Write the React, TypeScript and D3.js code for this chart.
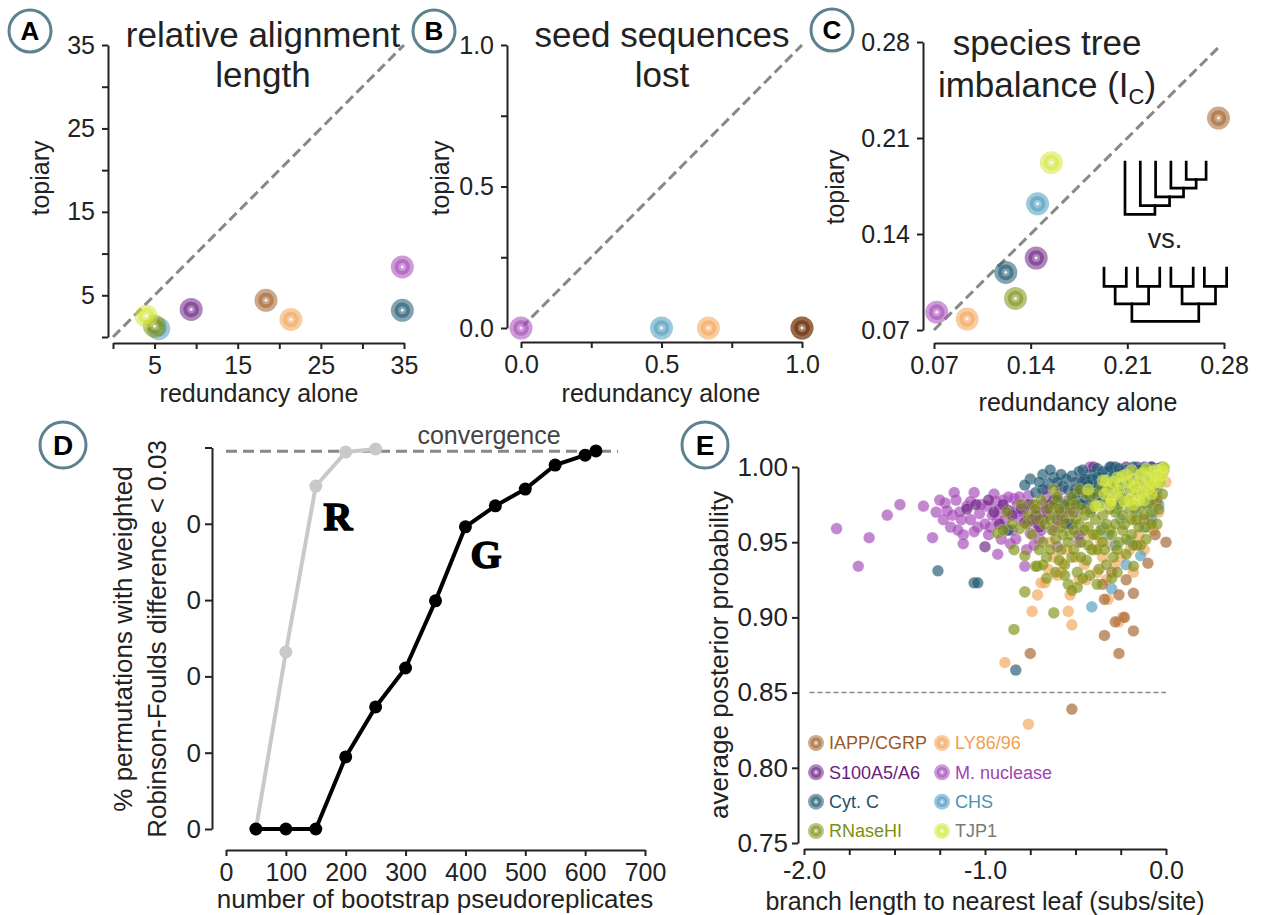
import React, { useEffect, useRef } from "react";
import * as d3 from "d3";

const FONT = "'Liberation Sans', Arial, Helvetica, sans-serif";
const AXIS = "#222";
const BADGE = "#5d8190";
const DASH = "#888";

// gene palette (shared by all panels)
const genes = ["IAPP/CGRP", "LY86/96", "S100A5/A6", "M. nuclease", "Cyt. C", "CHS", "RNaseHI", "TJP1"];
const geneFill = ["#a2622c", "#f3a456", "#6b2383", "#a449b8", "#1f5870", "#4f9bbd", "#7f9214", "#d5e63c"];
const geneText = ["#9a5a28", "#f0a050", "#6a2080", "#9d45b0", "#1f5068", "#4a92b4", "#7d8f10", "#7a7a7a"];

// A: relative alignment length
const alignTicks = [0, 5, 10, 15, 20, 25, 30, 35];
const alignTickLabels = ["", "5", "", "15", "", "25", "", "35"];
const alignGenes = ["CHS", "RNaseHI", "TJP1", "S100A5/A6", "IAPP/CGRP", "LY86/96", "Cyt. C", "M. nuclease"];
const alignRedundancy = [5.5, 5.0, 4.0, 9.4, 18.4, 21.4, 34.8, 34.8];
const alignTopiary = [1.0, 1.3, 2.5, 3.3, 4.4, 2.1, 3.2, 8.4];

// B: seed sequences lost
const seedTicks = [0, 0.25, 0.5, 0.75, 1];
const seedTickLabels = ["0.0", "", "0.5", "", "1.0"];
const seedGenes = ["M. nuclease", "CHS", "LY86/96", "IAPP/CGRP"];
const seedRedundancy = [0, 0.5, 0.667, 1.0];
const seedTopiary = [0, 0, 0, 0];

// C: species tree imbalance
const imbTicks = [0.07, 0.14, 0.21, 0.28];
const imbTickLabels = ["0.07", "0.14", "0.21", "0.28"];
const imbGenes = ["M. nuclease", "LY86/96", "RNaseHI", "Cyt. C", "S100A5/A6", "CHS", "TJP1", "IAPP/CGRP"];
const imbRedundancy = [0.072, 0.094, 0.129, 0.122, 0.144, 0.145, 0.155, 0.276];
const imbTopiary = [0.083, 0.078, 0.093, 0.112, 0.1225, 0.162, 0.192, 0.2245];
const caterpillarTree = ["a", ["b", ["c", ["d", ["e", "f"]]]]];
const balancedTree = [[["a", "b"], ["c", "d"]], [["e", "f"], ["g", "h"]]];

// D: bootstrap convergence
const bootTicks = [0, 100, 200, 300, 400, 500, 600, 700];
const pctTicks = [0, 20, 40, 60, 80, 100];
const pctTickLabels = ["0", "0", "0", "0", "0", ""];
const gReps = [50, 100, 150, 200, 250, 300, 350, 400, 450, 500, 550, 600, 618];
const gConverged = [0, 0, 0, 18.9, 32.0, 42.2, 59.8, 79.2, 84.7, 89.1, 95.4, 98.0, 99.1];
const rReps = [50, 100, 150, 200, 250];
const rConverged = [0, 46.4, 89.9, 98.8, 99.6];
const convergenceLevel = 99;
const convergenceSpan = [0, 655];

// E: posterior probability vs branch length
const branchTicks = [-2, -1.75, -1.5, -1.25, -1, -0.75, -0.5, -0.25, 0];
const branchTickLabels = ["-2.0", "", "", "", "-1.0", "", "", "", "0.0"];
const postTicks = [0.75, 0.8, 0.85, 0.9, 0.95, 1.0];
const postThreshold = 0.85;

const eIAPP = [
  [-0.75, 0.876], [-0.52, 0.839], [-0.34, 0.888], [-0.28, 0.897], [-0.26, 0.876], [-0.23, 0.9],
  [-0.18, 0.891], [-0.18, 0.916], [-0.26, 0.915], [-0.35, 0.922], [-0.34, 0.912], [-0.22, 0.925],
  [-0.1, 0.936], [-0.06, 0.955], [0.0, 0.95], [-0.05, 0.977], [-0.16, 0.948], [-0.3, 0.93],
  [-0.08, 0.985], [-0.12, 0.965], [-0.04, 0.992],
];
const eLY86 = [
  [-0.76, 0.829], [-0.89, 0.87], [-0.74, 0.904], [-0.71, 0.915], [-0.69, 0.923], [-0.54, 0.904],
  [-0.52, 0.895], [-0.53, 0.915], [-0.67, 0.923], [-0.32, 0.912], [-0.26, 0.897], [-0.24, 0.9],
  [-0.57, 0.936], [-0.08, 0.965], [0.0, 0.99], [-0.62, 0.94], [-0.58, 0.93], [-0.45, 0.935],
  [-0.4, 0.945], [-0.35, 0.94], [-0.3, 0.948], [-0.2, 0.945], [-0.15, 0.955], [-0.1, 0.975],
  [-0.05, 0.98], [-0.48, 0.925], [-0.6, 0.928], [-0.38, 0.93], [-0.28, 0.935], [-0.12, 0.985],
  [-0.02, 0.995], [-0.64, 0.95], [-0.55, 0.945], [-0.65, 0.932], [-0.5, 0.94], [-0.44, 0.925],
  [-0.42, 0.955], [-0.36, 0.95], [-0.33, 0.925], [-0.25, 0.94], [-0.18, 0.93], [-0.12, 0.945],
  [-0.07, 0.958], [-0.04, 0.97], [-0.6, 0.96], [-0.17, 0.965],
];
const eS100 = [
  [-1.0, 0.947], [-0.87, 0.971], [-1.1, 0.972], [-0.95, 0.97], [-0.8, 0.972], [-0.72, 0.968],
  [-0.66, 0.972], [-0.6, 0.965], [-0.55, 0.962], [-0.51, 0.97], [-0.46, 0.975], [-0.4, 1.0],
  [-0.36, 0.985], [-0.12, 1.0], [-0.08, 1.0], [-0.04, 0.999], [-0.62, 0.978], [-0.7, 0.96],
  [-0.48, 0.955], [-0.78, 0.963], [-1.05, 0.975], [-0.98, 0.978], [-0.92, 0.962], [-0.9, 0.975],
  [-0.85, 0.968], [-0.76, 0.975], [-0.74, 0.965], [-0.68, 0.965], [-0.64, 0.975], [-0.58, 0.97],
  [-0.53, 0.975], [-0.44, 0.99], [-0.3, 1.0], [-0.22, 1.0], [-0.16, 1.0],
];
const eMnuc = [
  [-1.82, 0.959], [-1.7, 0.934], [-1.64, 0.953], [-1.54, 0.968], [-1.47, 0.975], [-1.34, 0.974],
  [-1.29, 0.953], [-1.22, 0.976], [-1.21, 0.971], [-1.18, 0.968], [-1.19, 0.96], [-1.12, 0.955],
  [-1.12, 0.949], [-1.06, 0.983], [-1.13, 0.965], [-1.1, 0.974], [-1.04, 0.96], [-0.97, 0.96],
  [-0.93, 0.942], [-0.99, 0.974], [-0.94, 0.977], [-0.9, 0.978], [-0.84, 0.979], [-0.86, 0.949],
  [-0.78, 0.934], [-0.76, 0.981], [-0.75, 0.956], [-0.93, 0.965], [-1.03, 0.969], [-0.84, 0.969],
  [-0.8, 0.965], [-0.77, 0.945], [-0.72, 0.963], [-0.68, 0.975], [-0.65, 0.968], [-0.62, 0.958],
  [-0.6, 0.947], [-0.56, 0.972], [-0.52, 0.962], [-0.48, 0.95], [-0.42, 1.0], [-0.7, 0.952],
  [-0.88, 0.958], [-1.08, 0.977], [-0.98, 0.955], [-0.82, 0.975], [-0.66, 0.98], [-0.58, 0.985],
  [-1.25, 0.978], [-1.23, 0.965], [-1.16, 0.978], [-1.15, 0.958], [-1.14, 0.97], [-1.08, 0.965],
  [-1.06, 0.957], [-1.02, 0.975], [-1.0, 0.962], [-0.96, 0.968], [-0.95, 0.982], [-0.92, 0.972],
  [-0.91, 0.952], [-0.89, 0.965], [-0.87, 0.98], [-0.85, 0.958], [-0.83, 0.952], [-0.81, 0.98],
  [-0.79, 0.97], [-0.74, 0.975], [-0.73, 0.948], [-0.71, 0.97], [-0.69, 0.958], [-0.67, 0.985],
  [-0.63, 0.972], [-0.61, 0.978], [-0.57, 0.965], [-0.54, 0.978], [-0.5, 0.985], [-0.46, 0.992],
  [-1.17, 0.983], [-1.27, 0.97],
];
const eCytC = [
  [-1.26, 0.931], [-1.06, 0.923], [-1.04, 0.923], [-0.83, 0.865], [-0.87, 0.958], [-0.75, 0.992],
  [-0.68, 0.995], [-0.65, 0.989], [-0.68, 0.985], [-0.57, 0.987], [-0.52, 0.994], [-0.6, 0.978],
  [-0.48, 0.997], [-0.46, 0.99], [-0.44, 0.984], [-0.42, 0.995], [-0.4, 0.988], [-0.38, 0.999],
  [-0.36, 0.993], [-0.34, 0.986], [-0.32, 0.997], [-0.3, 0.991], [-0.28, 1.0], [-0.26, 0.995],
  [-0.24, 0.988], [-0.22, 0.998], [-0.2, 0.993], [-0.18, 1.0], [-0.16, 0.996], [-0.14, 0.991],
  [-0.12, 0.999], [-0.1, 0.995], [-0.08, 1.0], [-0.06, 0.997], [-0.04, 0.999], [-0.02, 1.0],
  [-0.44, 0.978], [-0.5, 0.983], [-0.38, 0.98], [-0.3, 0.983], [-0.55, 0.992], [-0.62, 0.993],
  [-0.72, 0.983], [-0.15, 0.985], [-0.53, 0.962], [-0.41, 0.972], [-0.1, 0.98],
  [-0.54, 0.985], [-0.52, 0.978], [-0.5, 0.99], [-0.49, 0.98], [-0.47, 0.985], [-0.46, 0.998],
  [-0.45, 0.992], [-0.43, 0.988], [-0.42, 0.98], [-0.41, 0.992], [-0.39, 0.984], [-0.38, 0.993],
  [-0.37, 0.988], [-0.35, 0.982], [-0.35, 0.997], [-0.33, 0.991], [-0.31, 0.985], [-0.31, 1.0],
  [-0.29, 0.994], [-0.27, 0.987], [-0.26, 0.999], [-0.25, 0.992], [-0.23, 0.985], [-0.21, 0.996],
  [-0.19, 0.99], [-0.17, 0.985], [-0.15, 0.998], [-0.13, 0.993], [-0.11, 0.988], [-0.09, 0.998],
  [-0.07, 0.993], [-0.05, 0.99], [-0.03, 0.996], [-0.01, 0.999], [-0.58, 0.995], [-0.6, 0.99],
  [-0.64, 0.998], [-0.7, 0.99], [-0.47, 0.975], [-0.36, 0.976], [-0.25, 0.978], [-0.56, 0.975],
  [-0.78, 0.988],
];
const eCHS = [
  [-0.41, 0.907], [-0.3, 0.919], [-0.14, 0.941], [-0.07, 0.97], [-0.2, 0.951], [-0.12, 0.96],
  [-0.25, 0.965], [-0.05, 0.985], [-0.03, 0.993], [-0.18, 0.975], [-0.09, 0.978], [-0.35, 0.96],
  [-0.28, 0.948], [-0.02, 0.998], [-0.22, 0.935], [-0.16, 0.97], [-0.11, 0.975], [-0.06, 0.99],
  [-0.08, 0.965], [-0.27, 0.972], [-0.32, 0.955], [-0.04, 0.975],
];
const eRNase = [
  [-0.93, 0.956], [-0.84, 0.945], [-0.78, 0.941], [-0.78, 0.917], [-0.84, 0.892], [-0.71, 0.934],
  [-0.81, 0.959], [-0.73, 0.975], [-0.62, 0.903], [-0.72, 0.934], [-0.49, 0.92], [-0.3, 0.926],
  [-0.18, 0.934], [-0.58, 0.96], [-0.7, 0.965], [-0.68, 0.95], [-0.66, 0.94], [-0.65, 0.972],
  [-0.63, 0.958], [-0.61, 0.93], [-0.6, 0.968], [-0.58, 0.945], [-0.56, 0.935], [-0.55, 0.975],
  [-0.53, 0.955], [-0.52, 0.94], [-0.5, 0.965], [-0.49, 0.93], [-0.47, 0.95], [-0.46, 0.972],
  [-0.44, 0.938], [-0.43, 0.96], [-0.41, 0.945], [-0.4, 0.975], [-0.38, 0.955], [-0.37, 0.932],
  [-0.35, 0.968], [-0.34, 0.945], [-0.32, 0.978], [-0.31, 0.958], [-0.29, 0.94], [-0.28, 0.97],
  [-0.26, 0.95], [-0.25, 0.98], [-0.23, 0.962], [-0.22, 0.942], [-0.2, 0.972], [-0.19, 0.955],
  [-0.17, 0.983], [-0.16, 0.965], [-0.14, 0.948], [-0.13, 0.975], [-0.11, 0.96], [-0.1, 0.985],
  [-0.08, 0.97], [-0.06, 0.98], [-0.05, 0.962], [-0.03, 0.99], [-0.88, 0.97], [-0.76, 0.968],
  [-0.74, 0.955], [-0.66, 0.926], [-0.54, 0.922], [-0.42, 0.928], [-0.27, 0.93], [-0.36, 0.985],
  [-0.44, 0.982], [-0.62, 0.985], [-0.52, 0.98],
  [-0.72, 0.972], [-0.7, 0.945], [-0.69, 0.978], [-0.67, 0.962], [-0.64, 0.945], [-0.64, 0.965],
  [-0.62, 0.975], [-0.61, 0.952], [-0.59, 0.938], [-0.59, 0.972], [-0.57, 0.955], [-0.56, 0.965],
  [-0.54, 0.95], [-0.53, 0.97], [-0.51, 0.945], [-0.51, 0.958], [-0.5, 0.975], [-0.48, 0.962],
  [-0.47, 0.94], [-0.45, 0.958], [-0.45, 0.968], [-0.43, 0.948], [-0.42, 0.97], [-0.4, 0.955],
  [-0.39, 0.965], [-0.38, 0.945], [-0.36, 0.958], [-0.35, 0.95], [-0.33, 0.962], [-0.33, 0.935],
  [-0.31, 0.972], [-0.3, 0.955], [-0.28, 0.962], [-0.27, 0.945], [-0.26, 0.975], [-0.24, 0.958],
  [-0.24, 0.968], [-0.22, 0.952], [-0.21, 0.978], [-0.19, 0.965], [-0.18, 0.948], [-0.17, 0.972],
  [-0.15, 0.96], [-0.14, 0.982], [-0.12, 0.968], [-0.11, 0.952], [-0.09, 0.976], [-0.08, 0.962],
  [-0.06, 0.988], [-0.04, 0.972], [-0.02, 0.982], [-0.6, 0.98], [-0.48, 0.985], [-0.4, 0.982],
  [-0.3, 0.988], [-0.56, 0.928], [-0.46, 0.926], [-0.38, 0.922], [-0.52, 0.918], [-0.8, 0.975],
  [-0.85, 0.962], [-0.9, 0.958], [-0.77, 0.962], [-0.68, 0.935],
];
const eTJP1 = [
  [-0.37, 0.974], [-0.33, 0.991], [-0.25, 0.989], [-0.23, 0.977], [-0.35, 0.991], [-0.39, 0.974],
  [-0.2, 0.985], [-0.18, 0.992], [-0.16, 0.982], [-0.14, 0.995], [-0.12, 0.988], [-0.1, 0.993],
  [-0.08, 0.997], [-0.06, 0.994], [-0.04, 0.998], [-0.02, 0.999], [-0.01, 0.997], [-0.28, 0.982],
  [-0.22, 0.995], [-0.3, 0.978], [-0.15, 0.978], [-0.1, 0.985], [-0.05, 0.99], [-0.27, 0.993],
  [-0.19, 0.998], [-0.11, 0.999], [-0.07, 0.989], [-0.03, 0.994],
  [-0.34, 0.982], [-0.32, 0.985], [-0.29, 0.99], [-0.26, 0.984], [-0.24, 0.994], [-0.21, 0.99],
  [-0.2, 0.978], [-0.17, 0.987], [-0.15, 0.99], [-0.13, 0.983], [-0.13, 0.996], [-0.09, 0.99],
  [-0.08, 0.982], [-0.06, 0.998], [-0.05, 0.994], [-0.03, 0.99], [-0.02, 0.995], [-0.01, 1.0],
  [-0.12, 0.978], [-0.18, 0.975], [-0.43, 0.985], [-0.31, 0.975],
];
const eDrawOrder = ["LY86/96", "M. nuclease", "S100A5/A6", "CHS", "Cyt. C", "IAPP/CGRP", "RNaseHI", "TJP1"];
const legendCol1 = ["IAPP/CGRP", "S100A5/A6", "Cyt. C", "RNaseHI"];
const legendCol2 = ["LY86/96", "M. nuclease", "CHS", "TJP1"];

const colorOf = (g: string) => geneFill[genes.indexOf(g)];
const textColorOf = (g: string) => geneText[genes.indexOf(g)];

function ringMarker(g: any, cx: number, cy: number, r: number, color: string) {
  g.append("circle").attr("cx", cx).attr("cy", cy).attr("r", r).attr("fill", color).attr("opacity", 0.55);
  g.append("circle").attr("cx", cx).attr("cy", cy).attr("r", r * 0.68).attr("fill", color).attr("opacity", 0.55);
  g.append("circle").attr("cx", cx).attr("cy", cy).attr("r", r * 0.34).attr("fill", "#fff").attr("opacity", 0.3);
  g.append("circle").attr("cx", cx).attr("cy", cy).attr("r", r * 0.13).attr("fill", "#fff").attr("opacity", 0.85);
}

function badge(svg: any, cx: number, cy: number, r: number, letter: string, size: number) {
  svg.append("circle").attr("cx", cx).attr("cy", cy).attr("r", r)
    .attr("fill", "#fff").attr("stroke", BADGE).attr("stroke-width", 3);
  svg.append("text").attr("x", cx).attr("y", cy).attr("dy", "0.36em")
    .attr("text-anchor", "middle").attr("font-weight", "bold").attr("font-size", size)
    .attr("fill", "#000").text(letter);
}

function styleAxis(g: any, size: number) {
  g.attr("font-family", FONT).attr("font-size", size);
  g.select(".domain").attr("stroke", AXIS).attr("stroke-width", 2);
  g.selectAll(".tick line").attr("stroke", AXIS).attr("stroke-width", 2);
  g.selectAll(".tick text").attr("fill", AXIS);
}

function label(svg: any, x: number, y: number, txt: string, size: number, rotate = false, color = AXIS) {
  const t = svg.append("text")
    .attr("text-anchor", "middle").attr("font-size", size).attr("fill", color).text(txt);
  if (rotate) t.attr("transform", `translate(${x},${y}) rotate(-90)`).attr("dy", "0.35em");
  else t.attr("x", x).attr("y", y);
  return t;
}

function drawTree(svg: any, tree: any, left: number, unit: number, leafTop: number, first: number, step: number, sameSep: number) {
  const root = d3.hierarchy(tree, (d: any) => (Array.isArray(d) ? d : null));
  d3.cluster().nodeSize([unit, 1]).separation((a: any, b: any) => (a.parent === b.parent ? sameSep : 1))(root as any);
  const minX = d3.min(root.leaves(), (d: any) => d.x) as number;
  const px = (n: any) => left + n.x - minX;
  const py = (n: any) => leafTop + (n.height === 0 ? 0 : first + (n.height - 1) * step);
  root.descendants().forEach((n: any) => {
    if (!n.children) return;
    const [c1, c2] = n.children;
    svg.append("path")
      .attr("d", `M${px(c1)},${py(c1)}V${py(n)}H${px(c2)}V${py(c2)}`)
      .attr("fill", "none").attr("stroke", "#000").attr("stroke-width", 2.7)
      .attr("stroke-linejoin", "miter").attr("stroke-linecap", "square");
  });
}

export default function App() {
  const ref = useRef<SVGSVGElement>(null);

  useEffect(() => {
    document.body.style.margin = "0";
    const svg = d3.select(ref.current);
    svg.selectAll("*").remove();
    svg.attr("font-family", FONT);

    // ---------- Panel A ----------
    const xA = d3.scaleLinear().domain([0, 35]).range([113, 404]);
    const yA = d3.scaleLinear().domain([0, 35]).range([337, 45]);
    const axA = svg.append("g").attr("transform", "translate(108,0)")
      .call(d3.axisLeft(yA).tickValues(alignTicks).tickFormat((_d, i) => alignTickLabels[i]).tickSize(6).tickSizeOuter(0).tickPadding(7));
    styleAxis(axA, 25);
    const axAx = svg.append("g").attr("transform", "translate(0,343)")
      .call(d3.axisBottom(xA).tickValues(alignTicks).tickFormat((_d, i) => alignTickLabels[i]).tickSize(6).tickSizeOuter(0).tickPadding(7));
    styleAxis(axAx, 25);
    svg.append("line").attr("x1", xA(0)).attr("y1", yA(0)).attr("x2", xA(35)).attr("y2", yA(35))
      .attr("stroke", DASH).attr("stroke-width", 3).attr("stroke-dasharray", "10,5");
    const gA = svg.append("g");
    alignGenes.forEach((g, i) => ringMarker(gA, xA(alignRedundancy[i]), yA(alignTopiary[i]), 11.5, colorOf(g)));
    label(svg, 263, 47, "relative alignment", 35);
    label(svg, 263, 87, "length", 35);
    label(svg, 40, 178, "topiary", 25, true);
    label(svg, 259, 402, "redundancy alone", 25);
    badge(svg, 30, 31, 21, "A", 26);

    // ---------- Panel B ----------
    const xB = d3.scaleLinear().domain([0, 1]).range([521, 802]);
    const yB = d3.scaleLinear().domain([0, 1]).range([328, 45]);
    const axB = svg.append("g").attr("transform", "translate(507,0)")
      .call(d3.axisLeft(yB).tickValues(seedTicks).tickFormat((_d, i) => seedTickLabels[i]).tickSize(6).tickSizeOuter(0).tickPadding(7));
    styleAxis(axB, 25);
    const axBx = svg.append("g").attr("transform", "translate(0,342)")
      .call(d3.axisBottom(xB).tickValues(seedTicks).tickFormat((_d, i) => seedTickLabels[i]).tickSize(6).tickSizeOuter(0).tickPadding(7));
    styleAxis(axBx, 25);
    svg.append("line").attr("x1", xB(0)).attr("y1", yB(0)).attr("x2", xB(1)).attr("y2", yB(1))
      .attr("stroke", DASH).attr("stroke-width", 3).attr("stroke-dasharray", "10,5");
    const gB = svg.append("g");
    seedGenes.forEach((g, i) => {
      ringMarker(gB, xB(seedRedundancy[i]), yB(seedTopiary[i]), 11.5, colorOf(g));
      if (g === "IAPP/CGRP") ringMarker(gB, xB(seedRedundancy[i]), yB(seedTopiary[i]), 11.5, "#6e3615");
    });
    label(svg, 662, 47, "seed sequences", 35);
    label(svg, 662, 87, "lost", 35);
    label(svg, 440, 178, "topiary", 25, true);
    label(svg, 661, 402, "redundancy alone", 25);
    badge(svg, 434, 31, 21, "B", 26);

    // ---------- Panel C ----------
    const xC = d3.scaleLinear().domain([0.07, 0.28]).range([934, 1224]);
    const yC = d3.scaleLinear().domain([0.07, 0.28]).range([330, 42]);
    const axC = svg.append("g").attr("transform", "translate(923,0)")
      .call(d3.axisLeft(yC).tickValues(imbTicks).tickFormat((_d, i) => imbTickLabels[i]).tickSize(6).tickSizeOuter(0).tickPadding(7));
    styleAxis(axC, 25);
    const axCx = svg.append("g").attr("transform", "translate(0,343)")
      .call(d3.axisBottom(xC).tickValues(imbTicks).tickFormat((_d, i) => imbTickLabels[i]).tickSize(6).tickSizeOuter(0).tickPadding(7));
    styleAxis(axCx, 25);
    svg.append("line").attr("x1", xC(0.07)).attr("y1", yC(0.07)).attr("x2", xC(0.276)).attr("y2", yC(0.276))
      .attr("stroke", DASH).attr("stroke-width", 3).attr("stroke-dasharray", "10,5");
    const gC = svg.append("g");
    imbGenes.forEach((g, i) => ringMarker(gC, xC(imbRedundancy[i]), yC(imbTopiary[i]), 11.5, colorOf(g)));
    label(svg, 1047, 55, "species tree", 35);
    const t2 = svg.append("text").attr("x", 1047).attr("y", 97).attr("text-anchor", "middle")
      .attr("font-size", 35).attr("fill", AXIS);
    t2.append("tspan").text("imbalance (I");
    t2.append("tspan").attr("font-size", 22).attr("dy", 7).text("C");
    t2.append("tspan").attr("dy", -7).text(")");
    label(svg, 835, 187, "topiary", 25, true);
    label(svg, 1078, 411, "redundancy alone", 25);
    drawTree(svg, caterpillarTree, 1125, 15.3, 162, 17.5, 8.7, 1.3);
    label(svg, 1165, 248, "vs.", 27);
    drawTree(svg, balancedTree, 1104, 11.15, 268, 18.4, 17.5, 2);
    badge(svg, 832, 30, 21, "C", 26);

    // ---------- Panel D ----------
    const xD = d3.scaleLinear().domain([0, 700]).range([226, 645]);
    const yD = d3.scaleLinear().domain([0, 100]).range([829, 447.5]);
    const axD = svg.append("g").attr("transform", "translate(212,0)")
      .call(d3.axisLeft(yD).tickValues(pctTicks).tickFormat((_d, i) => pctTickLabels[i]).tickSize(7).tickSizeOuter(0).tickPadding(4));
    styleAxis(axD, 26);
    const axDx = svg.append("g").attr("transform", "translate(0,850)")
      .call(d3.axisBottom(xD).tickValues(bootTicks).tickFormat(d3.format("d")).tickSize(6).tickSizeOuter(0).tickPadding(7));
    styleAxis(axDx, 25);
    svg.append("line").attr("x1", xD(convergenceSpan[0])).attr("x2", xD(convergenceSpan[1]))
      .attr("y1", yD(convergenceLevel)).attr("y2", yD(convergenceLevel))
      .attr("stroke", DASH).attr("stroke-width", 3).attr("stroke-dasharray", "11,6");
    label(svg, 489, 444, "convergence", 25, false, "#444");
    const lineD = d3.line<number>();
    svg.append("path")
      .attr("d", lineD(rReps.map((r, i) => [xD(r), yD(rConverged[i])]) as any))
      .attr("fill", "none").attr("stroke", "#c9c9c9").attr("stroke-width", 4);
    rReps.forEach((r, i) => svg.append("circle").attr("cx", xD(r)).attr("cy", yD(rConverged[i])).attr("r", 6.5).attr("fill", "#c9c9c9"));
    svg.append("path")
      .attr("d", lineD(gReps.map((r, i) => [xD(r), yD(gConverged[i])]) as any))
      .attr("fill", "none").attr("stroke", "#000").attr("stroke-width", 4);
    gReps.forEach((r, i) => svg.append("circle").attr("cx", xD(r)).attr("cy", yD(gConverged[i])).attr("r", 6.5).attr("fill", "#000"));
    const serif = (x: number, y: number, s: string) =>
      svg.append("text").attr("x", x).attr("y", y).attr("text-anchor", "middle")
        .attr("font-family", "'Liberation Serif', 'DejaVu Serif', serif").attr("font-weight", "bold")
        .attr("font-size", 40).attr("fill", "#000").attr("stroke", "#000").attr("stroke-width", 1.5).text(s);
    serif(338, 530, "R");
    serif(486, 568, "G");
    label(svg, 123, 639, "% permutations with weighted", 26, true);
    label(svg, 157, 639, "Robinson-Foulds difference < 0.03", 26, true);
    label(svg, 435, 908, "number of bootstrap pseudoreplicates", 26);
    badge(svg, 63, 445, 23, "D", 28);

    // ---------- Panel E ----------
    const xE = d3.scaleLinear().domain([-2, 0]).range([804, 1166]);
    const yE = d3.scaleLinear().domain([0.75, 1.0]).range([843, 467]);
    const axE = svg.append("g").attr("transform", "translate(798,0)")
      .call(d3.axisLeft(yE).tickValues(postTicks).tickFormat(d3.format(".2f")).tickSize(6).tickSizeOuter(0).tickPadding(4));
    styleAxis(axE, 26);
    const axEx = svg.append("g").attr("transform", "translate(0,849)")
      .call(d3.axisBottom(xE).tickValues(branchTicks).tickFormat((_d, i) => branchTickLabels[i]).tickSize(6).tickSizeOuter(0).tickPadding(6));
    styleAxis(axEx, 25);
    svg.append("line").attr("x1", xE(-1.97)).attr("x2", xE(0)).attr("y1", yE(postThreshold)).attr("y2", yE(postThreshold))
      .attr("stroke", DASH).attr("stroke-width", 1.5).attr("stroke-dasharray", "5,3");
    const eData: Record<string, number[][]> = {
      "IAPP/CGRP": eIAPP, "LY86/96": eLY86, "S100A5/A6": eS100, "M. nuclease": eMnuc,
      "Cyt. C": eCytC, "CHS": eCHS, "RNaseHI": eRNase, "TJP1": eTJP1,
    };
    const gE = svg.append("g");
    eDrawOrder.forEach((g) => {
      gE.selectAll(null).data(eData[g]).enter().append("circle")
        .attr("cx", (d: any) => xE(d[0])).attr("cy", (d: any) => yE(d[1])).attr("r", 5.8)
        .attr("fill", colorOf(g)).attr("fill-opacity", 0.66)
        .attr("stroke", "#fff").attr("stroke-opacity", 0.25).attr("stroke-width", 0.8);
    });
    const legendY = d3.scalePoint<number>().domain([0, 1, 2, 3]).range([743, 831]);
    [legendCol1, legendCol2].forEach((col, c) => {
      const mx = c === 0 ? 816 : 942;
      col.forEach((g, i) => {
        ringMarker(svg, mx, legendY(i) as number, 8, colorOf(g));
        svg.append("text").attr("x", mx + 13).attr("y", legendY(i) as number).attr("dy", "0.35em")
          .attr("font-size", 18).attr("fill", textColorOf(g)).text(g);
      });
    });
    label(svg, 719, 655, "average posterior probability", 26, true);
    label(svg, 985, 910, "branch length to nearest leaf (subs/site)", 25);
    badge(svg, 705, 445, 23, "E", 28);
  }, []);

  return <svg ref={ref} width={1266} height={915} style={{ display: "block", background: "#fff" }} />;
}
